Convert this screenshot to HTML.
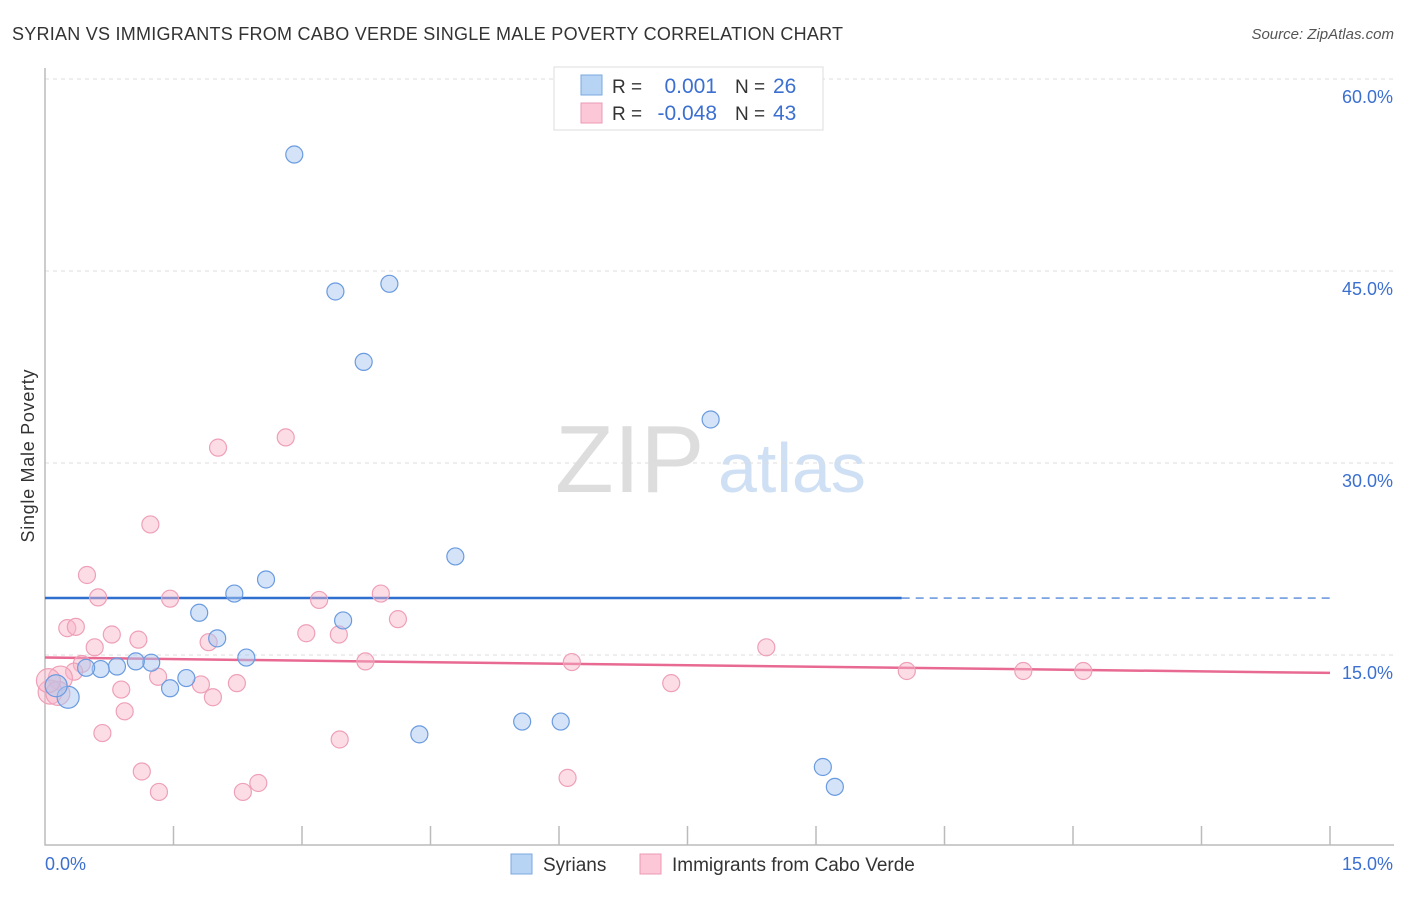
<!DOCTYPE html>
<html><head><meta charset="utf-8"><style>
body{margin:0;background:#fff;font-family:"Liberation Sans",sans-serif}
svg text{font-family:"Liberation Sans",sans-serif}
</style></head><body>
<svg id="c" width="1406" height="892">
<text x="12" y="40" font-size="18" fill="#333" textLength="831">SYRIAN VS IMMIGRANTS FROM CABO VERDE SINGLE MALE POVERTY CORRELATION CHART</text>
<text x="1394" y="39" font-size="15" fill="#555" font-style="italic" text-anchor="end">Source: ZipAtlas.com</text>
<text x="34" y="456" font-size="18" fill="#333" text-anchor="middle" textLength="173" transform="rotate(-90 34 456)">Single Male Poverty</text>
<text x="555" y="492" font-size="96" fill="#ddd" font-family="Liberation Serif">ZIP</text>
<text x="718" y="492" font-size="70" fill="#cfe0f5">atlas</text>
<g id="grid"></g><g id="axes"></g><g id="trend"></g><g id="pts"></g>
<g>
<rect x="554" y="67" width="269" height="63" fill="#fff" stroke="#ddd"/>
<rect x="581" y="75" width="21" height="20" fill="#b8d4f5" stroke="#7aa8e0"/>
<rect x="581" y="103" width="21" height="20" fill="#fcc8d7" stroke="#eb9ab3"/>
<text x="612" y="93" font-size="19" fill="#333">R = </text><text x="717" y="93" font-size="21" fill="#3b6fd0" text-anchor="end">0.001</text>
<text x="735" y="93" font-size="19" fill="#333">N = </text><text x="773" y="93" font-size="21" fill="#3b6fd0">26</text>
<text x="612" y="120" font-size="19" fill="#333">R = </text><text x="717" y="120" font-size="21" fill="#3b6fd0" text-anchor="end">-0.048</text>
<text x="735" y="120" font-size="19" fill="#333">N = </text><text x="773" y="120" font-size="21" fill="#3b6fd0">43</text>
</g>
<g>
<rect x="511" y="854" width="21" height="20" fill="#b8d4f5" stroke="#7aa8e0"/>
<text x="543" y="871" font-size="19" fill="#333">Syrians</text>
<rect x="640" y="854" width="21" height="20" fill="#fcc8d7" stroke="#eb9ab3"/>
<text x="672" y="871" font-size="19" fill="#333">Immigrants from Cabo Verde</text>
</g>
</svg>
<script>
const yTicks=[15,30,45,60];
const yTickLabels=["15.0%","30.0%","45.0%","60.0%"];
const blueX=[2.91,3.39,4.02,3.72,7.77,4.79,2.58,2.21,1.80,3.48,2.01,2.35,1.24,1.06,0.84,0.65,0.48,1.65,1.46,0.27,0.13,4.37,5.57,6.02,9.08,9.22];
const blueY=[54.1,43.4,44.0,37.9,33.4,22.7,20.9,19.8,18.3,17.7,16.3,14.8,14.4,14.5,14.1,13.9,14.0,13.2,12.4,11.7,12.6,8.8,9.8,9.8,6.25,4.7];
const pinkX=[2.81,2.02,1.23,0.49,0.62,1.46,3.20,3.92,4.12,0.26,0.36,0.78,1.09,3.05,3.43,0.58,1.91,8.42,3.74,6.15,0.43,0.34,1.32,1.82,2.24,0.89,1.96,7.31,10.06,11.42,12.12,0.93,0.67,3.44,1.13,6.10,2.49,1.33,2.31,0.18,0.06,0.15,0.04];
const pinkY=[32.0,31.2,25.2,21.25,19.5,19.4,19.3,19.8,17.8,17.1,17.2,16.6,16.2,16.7,16.6,15.6,16.0,15.6,14.5,14.45,14.3,13.7,13.3,12.7,12.8,12.3,11.7,12.8,13.75,13.75,13.75,10.6,8.9,8.4,5.9,5.4,5.0,4.3,4.3,13.2,12.1,12.0,13.0];
const blueTrend=[19.45,19.45];
const pinkTrend=[14.8,13.6];
const blueSolidEnd=10.0;
const X=v=>45+v/15*1285, Y=v=>847-v/60*768;
const NS="http://www.w3.org/2000/svg";
function mk(p,t,a){const e=document.createElementNS(NS,t);for(const k in a)e.setAttribute(k,a[k]);document.getElementById(p).appendChild(e);return e;}
yTicks.forEach((t,i)=>{
 const g=mk('grid','line',{x1:45,x2:1394,y1:Y(t),y2:Y(t),stroke:'#ddd','stroke-dasharray':'4,4'});
 
 
 const l=mk('grid','text',{x:1393,y:Y(t)+24,'font-size':18,fill:'#3b6fd0','text-anchor':'end'});
 l.textContent=yTickLabels[i];
 
 
});
const ax=mk('axes','path',{d:'M45,68V845H1394',fill:'none',stroke:'#bbb','stroke-width':1.5});


for(let i=1;i<=10;i++){const t=mk('axes','line',{x1:X(i*1.5),x2:X(i*1.5),y1:826,y2:845,stroke:'#bbb','stroke-width':1.5});
 
 }
const xl0=mk('axes','text',{x:45,y:870,'font-size':18,fill:'#3b6fd0'});xl0.textContent='0.0%';


const xl1=mk('axes','text',{x:1393,y:870,'font-size':18,fill:'#3b6fd0','text-anchor':'end'});xl1.textContent='15.0%';


const yb=v=>blueTrend[0]+(blueTrend[1]-blueTrend[0])*v/15;
let tl=mk('trend','line',{x1:X(0),x2:X(blueSolidEnd),y1:Y(yb(0)),y2:Y(yb(blueSolidEnd)),stroke:'#2f6fcf','stroke-width':2.5});


tl=mk('trend','line',{x1:X(blueSolidEnd),x2:X(15),y1:Y(yb(blueSolidEnd)),y2:Y(yb(15)),stroke:'#2f6fcf','stroke-width':1.2,'stroke-dasharray':'8,6'});


tl=mk('trend','line',{x1:X(0),x2:X(15),y1:Y(pinkTrend[0]),y2:Y(pinkTrend[1]),stroke:'#e86a92','stroke-width':2.5});


pinkX.forEach((x,i)=>{const r=x<0.2?12:8.5;
 const c=mk('pts','circle',{cx:X(x),cy:Y(pinkY[i]),r:r,fill:'rgba(248,180,200,0.45)',stroke:'#eea0b8','stroke-width':1.2});
 
 });
blueX.forEach((x,i)=>{const r=x<0.3?11:8.5;
 const c=mk('pts','circle',{cx:X(x),cy:Y(blueY[i]),r:r,fill:'rgba(170,200,240,0.5)',stroke:'#6a9be0','stroke-width':1.2});
 
 });
</script>
</body></html>
